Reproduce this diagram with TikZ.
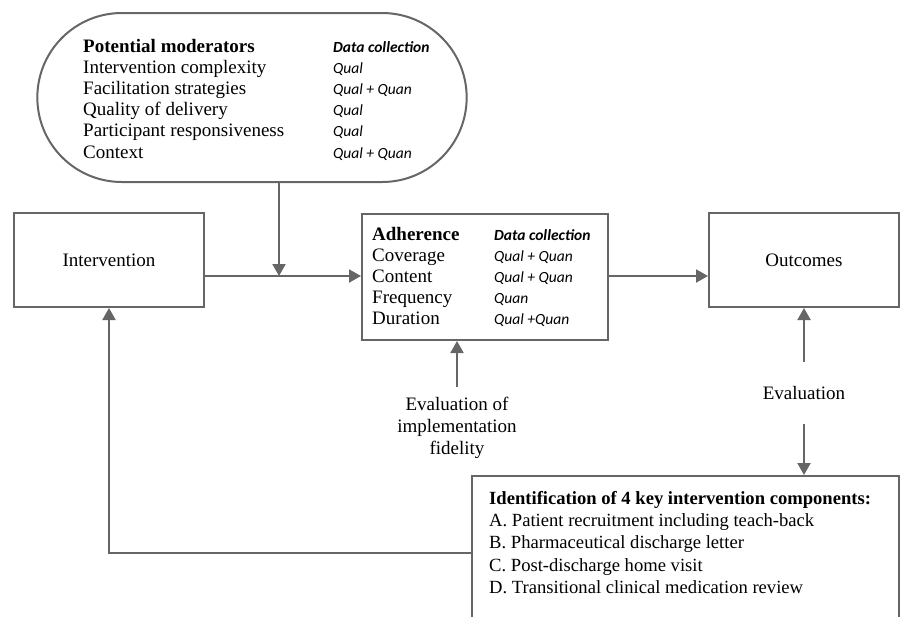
\documentclass[tikz,border=0pt]{standalone}
\usepackage{fontspec}
\setmainfont{Liberation Serif}
\newfontfamily\dcfont{Carlito}
\usetikzlibrary{arrows.meta,shapes.misc}
\definecolor{linegray}{RGB}{102,102,102}
\newcommand{\dc}[1]{{\dcfont\fontsize{15.5}{18}\selectfont\itshape #1}}
\newcommand{\dchead}{{\dcfont\fontsize{15.5}{18}\selectfont\bfseries\itshape Data collection}}
\tikzstyle{every node}=[font=\fontsize{19}{22}\selectfont]
\tikzstyle{block}=[draw=linegray,line width=2pt,rectangle]
\tikzstyle{pill}=[draw=linegray,line width=2pt,rounded rectangle]
\tikzstyle{flow}=[draw=linegray,line width=2pt,-{Triangle[length=12pt,width=13pt]}]
\tikzstyle{listing}=[anchor=base west,inner sep=0pt]

\begin{document}
\begin{tikzpicture}[x=1pt,y=-1pt]
  \useasboundingbox (0,0) rectangle (901,616);

  \node[pill,minimum width=436pt,minimum height=169pt] (mod) at (252,97.5) {};
  \node[listing,font=\fontsize{19}{21.2}\selectfont] (modtxt) at (83,52) {%
    \begin{tabular}[t]{@{}p{250pt}@{}l@{}}
      \textbf{Potential moderators} & \dchead\\
      Intervention complexity & \dc{Qual}\\
      Facilitation strategies & \dc{Qual + Quan}\\
      Quality of delivery & \dc{Qual}\\
      Participant responsiveness & \dc{Qual}\\
      Context & \dc{Qual + Quan}
    \end{tabular}};

  \node[block,minimum width=190pt,minimum height=94pt] (int) at (109,260) {Intervention};

  \node[block,minimum width=246pt,minimum height=126pt] (adh) at (485,277) {};
  \node[listing,font=\fontsize{19}{21}\selectfont] (adhtxt) at (372,240) {%
    \begin{tabular}[t]{@{}p{122pt}@{}l@{}}
      \textbf{Adherence} & \dchead\\
      Coverage & \dc{Qual + Quan}\\
      Content & \dc{Qual + Quan}\\
      Frequency & \dc{Quan}\\
      Duration & \dc{Qual +Quan}
    \end{tabular}};

  \node[block,minimum width=190pt,minimum height=94pt] (out) at (804,260) {Outcomes};

  \node[block,minimum width=427pt,minimum height=146pt] (comp) at (685.5,549) {};
  \node[listing,font=\fontsize{18.6}{22.2}\selectfont] (comptxt) at (489,504.5) {%
    \begin{tabular}[t]{@{}l@{}}
      \textbf{Identification of 4 key intervention components:}\\
      A. Patient recruitment including teach-back\\
      B. Pharmaceutical discharge letter\\
      C. Post-discharge home visit\\
      D. Transitional clinical medication review
    \end{tabular}};

  \node[align=center,inner ysep=10pt] (fid) at (457,428) {Evaluation of\\implementation\\fidelity};
  \node[inner ysep=24pt] (eval) at (804,393) {Evaluation};

  \coordinate (join) at (279,276);
  \coordinate (back) at (109,553);

  \draw[flow] (mod.south -| join) -- (join);
  \draw[flow] (int.east |- join) -- (adh.west |- join);
  \draw[flow] (adh.east |- join) -- (out.west |- join);
  \draw[flow] (fid.north) -- (fid.north |- adh.south);
  \draw[flow] (eval.north) -- (out.south);
  \draw[flow] (eval.south) -- (eval.south |- comp.north);
  \draw[flow] (comp.west |- back) -| (int.south);
\end{tikzpicture}
\end{document}
